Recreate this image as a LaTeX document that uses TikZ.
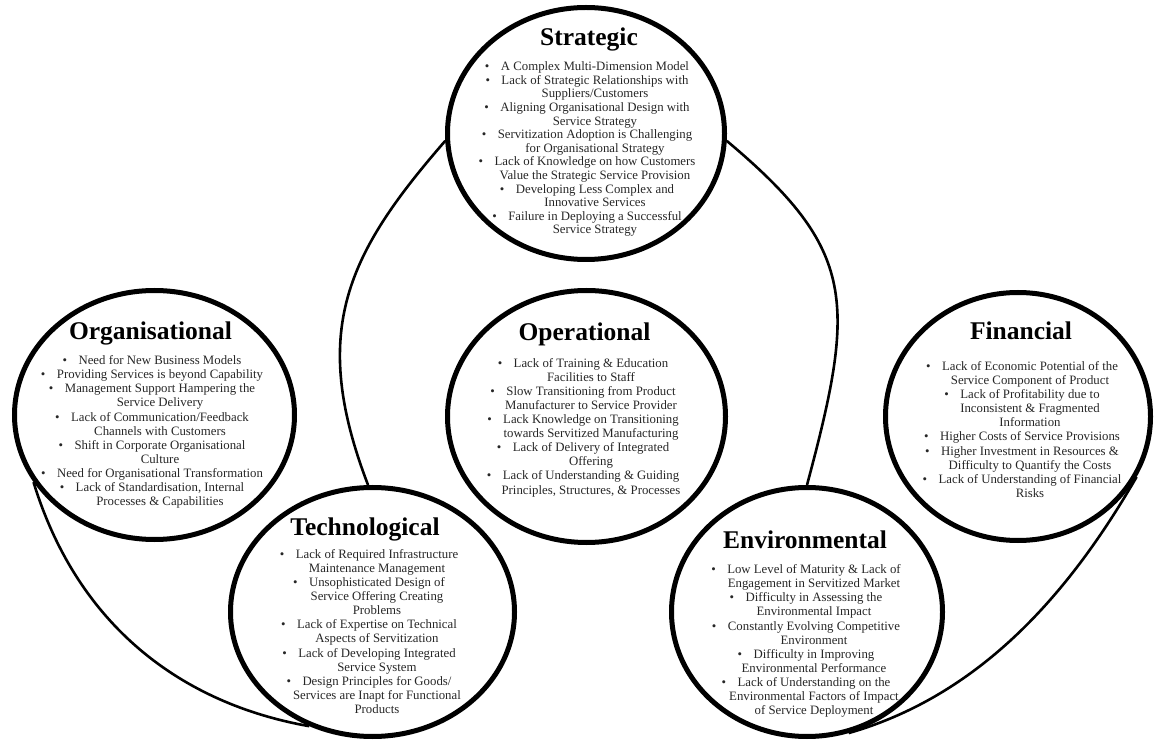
\documentclass[tikz,border=0pt]{standalone}
\usepackage{fontspec}
\setmainfont{Liberation Serif}
\usetikzlibrary{shapes.geometric}
\newcommand{\bl}{\textbullet\hspace{11.5pt}}
\newcommand{\cl}{\phantom{\textbullet}\hspace{11.5pt}}
\begin{document}
\begin{tikzpicture}[x=1pt,y=1pt,
  circ/.style={ellipse, draw, line width=5pt, inner sep=0pt},
  link/.style={line width=2.6pt},
  ttl/.style={font=\fontsize{25.5}{28}\selectfont\bfseries, anchor=base, inner sep=0pt},
  body/.style={font=\fontsize{12.8}{14.1}\selectfont, align=center, inner sep=0pt, text=black!85}]
\useasboundingbox (0,0) rectangle (1160,740);
% ellipses
\node[circ, minimum width=277pt, minimum height=252pt] (strat) at (586,606.5) {};
\node[circ, minimum width=278pt, minimum height=252pt] (oper) at (586.5,323.5) {};
\node[circ, minimum width=280pt, minimum height=249pt] (org) at (154.5,325) {};
\node[circ, minimum width=265pt, minimum height=248pt] (fin) at (1018,323.5) {};
\node[circ, minimum width=284pt, minimum height=249pt] (tech) at (372.5,128) {};
\node[circ, minimum width=271pt, minimum height=249pt] (env) at (807,128) {};
% connectors
\draw[link] (strat.183) .. controls +(229:150) and +(111:165) .. (tech.92);
\draw[link] (strat.357) .. controls +(-40:170) and +(75:190) .. (env.90);
\draw[link] (org.209) .. controls +(287:150) and +(170:130) .. (tech.241);
\draw[link] (env.289) .. controls +(16:140) and +(240:130) .. (fin.333);
% titles
\node[ttl] (strattitle) at (589,694) {Strategic};
\node[ttl] (orgtitle) at (150.5,400) {Organisational};
\node[ttl] (opertitle) at (584.5,399) {Operational};
\node[ttl] (fintitle) at (1021,400) {Financial};
\node[ttl] (techtitle) at (365,205) {Technological};
\node[ttl] (envtitle) at (805,192) {Environmental};
% bodies
\node[body, font=\fontsize{12.8}{13.6}\selectfont] (stratbody) at (587,590.7) {%
\bl A Complex Multi-Dimension Model\\
\bl Lack of Strategic Relationships with\\
\cl Suppliers/Customers\\
\bl Aligning Organisational Design with\\
\cl Service Strategy\\
\bl Servitization Adoption is Challenging\\
\cl for Organisational Strategy\\
\bl Lack of Knowledge on how Customers\\
\cl Value the Strategic Service Provision\\
\bl Developing Less Complex and\\
\cl Innovative Services\\
\bl Failure in Deploying a Successful\\
\cl Service Strategy};
\node[body] (orgbody) at (152,308) {%
\bl Need for New Business Models\\
\bl Providing Services is beyond Capability\\
\bl Management Support Hampering the\\
\cl Service Delivery\\
\bl Lack of Communication/Feedback\\
\cl Channels with Customers\\
\bl Shift in Corporate Organisational\\
\cl Culture\\
\bl Need for Organisational Transformation\\
\bl Lack of Standardisation, Internal\\
\cl Processes \& Capabilities};
\node[body] (operbody) at (583,312.5) {%
\bl Lack of Training \& Education\\
\cl Facilities to Staff\\
\bl Slow Transitioning from Product\\
\cl Manufacturer to Service Provider\\
\bl Lack Knowledge on Transitioning\\
\cl towards Servitized Manufacturing\\
\bl Lack of Delivery of Integrated\\
\cl Offering\\
\bl Lack of Understanding \& Guiding\\
\cl Principles, Structures, \& Processes};
\node[body] (finbody) at (1022,310.5) {%
\bl Lack of Economic Potential of the\\
\cl Service Component of Product\\
\bl Lack of Profitability due to\\
\cl Inconsistent \& Fragmented\\
\cl Information\\
\bl Higher Costs of Service Provisions\\
\bl Higher Investment in Resources \&\\
\cl Difficulty to Quantify the Costs\\
\bl Lack of Understanding of Financial\\
\cl Risks};
\node[body] (techbody) at (369,108.5) {%
\bl Lack of Required Infrastructure\\
\cl Maintenance Management\\
\bl Unsophisticated Design of\\
\cl Service Offering Creating\\
\cl Problems\\
\bl Lack of Expertise on Technical\\
\cl Aspects of Servitization\\
\bl Lack of Developing Integrated\\
\cl Service System\\
\bl Design Principles for Goods/\\
\cl Services are Inapt for Functional\\
\cl Products};
\node[body] (envbody) at (806,99) {%
\bl Low Level of Maturity \& Lack of\\
\cl Engagement in Servitized Market\\
\bl Difficulty in Assessing the\\
\cl Environmental Impact\\
\bl Constantly Evolving Competitive\\
\cl Environment\\
\bl Difficulty in Improving\\
\cl Environmental Performance\\
\bl Lack of Understanding on the\\
\cl Environmental Factors of Impact\\
\cl of Service Deployment};
\end{tikzpicture}
\end{document}
